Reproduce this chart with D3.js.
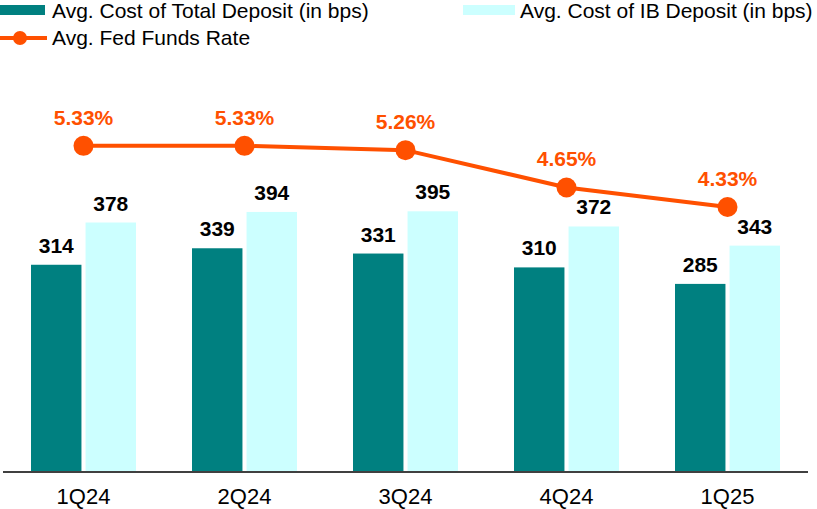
<!DOCTYPE html>
<html>
<head>
<meta charset="utf-8">
<script src="https://cdn.jsdelivr.net/npm/d3@7"></script>
<style>
  html, body { margin: 0; padding: 0; background: #fff; }
  svg { display: block; font-family: "Liberation Sans", Arial, sans-serif; }
</style>
</head>
<body>
<svg id="chart" width="817" height="509"></svg>
<script>
// Quarterly deposit cost vs. Fed funds rate
const quarters = ["1Q24", "2Q24", "3Q24", "4Q24", "1Q25"];
const totalDepositCost = [314, 339, 331, 310, 285];   // bps
const ibDepositCost = [378, 394, 395, 372, 343];      // bps
const fedFundsRate = [5.33, 5.33, 5.26, 4.65, 4.33];  // %

const seriesNames = ["Avg. Cost of Total Deposit (in bps)", "Avg. Cost of IB Deposit (in bps)", "Avg. Fed Funds Rate"];
const colors = { total: "#008080", ib: "#CCFFFF", fed: "#FF5000" };

const svg = d3.select("#chart");
const baseY = 472;

const x = d3.scaleBand().domain(quarters).range([3, 808]).padding(0);
const groupWidth = 105;
const x1 = d3.scaleBand().domain(["total", "ib"]).range([0, groupWidth]).paddingInner(0.075);
const y = d3.scaleLinear().domain([0, 700]).range([baseY, 10]);
const y2 = d3.scaleLinear().domain([0, 7.55]).range([baseY, 10]);

const rows = quarters.map((q, i) => ({ q, total: totalDepositCost[i], ib: ibDepositCost[i], fed: fedFundsRate[i] }));

// Bars
const groups = svg.append("g").selectAll("g").data(rows).join("g")
  .attr("transform", d => `translate(${x(d.q) + x.bandwidth() / 2 - groupWidth / 2},0)`);

["total", "ib"].forEach(key => {
  groups.append("rect")
    .attr("x", x1(key))
    .attr("width", x1.bandwidth())
    .attr("y", d => y(d[key]))
    .attr("height", d => baseY - y(d[key]))
    .attr("fill", colors[key]);
  groups.append("text")
    .attr("x", x1(key) + x1.bandwidth() / 2)
    .attr("y", d => y(d[key]) - 12)
    .attr("text-anchor", "middle")
    .attr("font-size", 21)
    .attr("font-weight", "bold")
    .attr("fill", "#000")
    .text(d => d[key]);
});

// Category axis
svg.append("line")
  .attr("x1", 3).attr("x2", 808)
  .attr("y1", baseY).attr("y2", baseY)
  .attr("stroke", "#404040").attr("stroke-width", 2);

svg.append("g").selectAll("text").data(quarters).join("text")
  .attr("x", d => x(d) + x.bandwidth() / 2)
  .attr("y", 504)
  .attr("text-anchor", "middle")
  .attr("font-size", 22)
  .attr("fill", "#000")
  .text(d => d);

// Fed funds line
const cx = d => x(d.q) + x.bandwidth() / 2;
svg.append("path")
  .datum(rows)
  .attr("fill", "none")
  .attr("stroke", colors.fed)
  .attr("stroke-width", 4)
  .attr("d", d3.line().x(cx).y(d => y2(d.fed)));

svg.append("g").selectAll("circle").data(rows).join("circle")
  .attr("cx", cx)
  .attr("cy", d => y2(d.fed))
  .attr("r", 10)
  .attr("fill", colors.fed);

svg.append("g").selectAll("text").data(rows).join("text")
  .attr("x", cx)
  .attr("y", d => y2(d.fed) - 21)
  .attr("text-anchor", "middle")
  .attr("font-size", 21)
  .attr("font-weight", "bold")
  .attr("fill", colors.fed)
  .text(d => d.fed.toFixed(2) + "%");

// Legend
const legend = svg.append("g").attr("font-size", 21).attr("fill", "#000");
legend.append("rect").attr("x", 0).attr("y", 5).attr("width", 45).attr("height", 10).attr("fill", colors.total);
legend.append("text").attr("x", 52).attr("y", 18).text(seriesNames[0]);
legend.append("rect").attr("x", 463).attr("y", 5).attr("width", 52).attr("height", 10).attr("fill", colors.ib);
legend.append("text").attr("x", 520).attr("y", 18).text(seriesNames[1]);
legend.append("line").attr("x1", 0).attr("x2", 47).attr("y1", 38).attr("y2", 38)
  .attr("stroke", colors.fed).attr("stroke-width", 4);
legend.append("circle").attr("cx", 20).attr("cy", 38).attr("r", 7).attr("fill", colors.fed);
legend.append("text").attr("x", 52).attr("y", 45).text(seriesNames[2]);
</script>
</body>
</html>
